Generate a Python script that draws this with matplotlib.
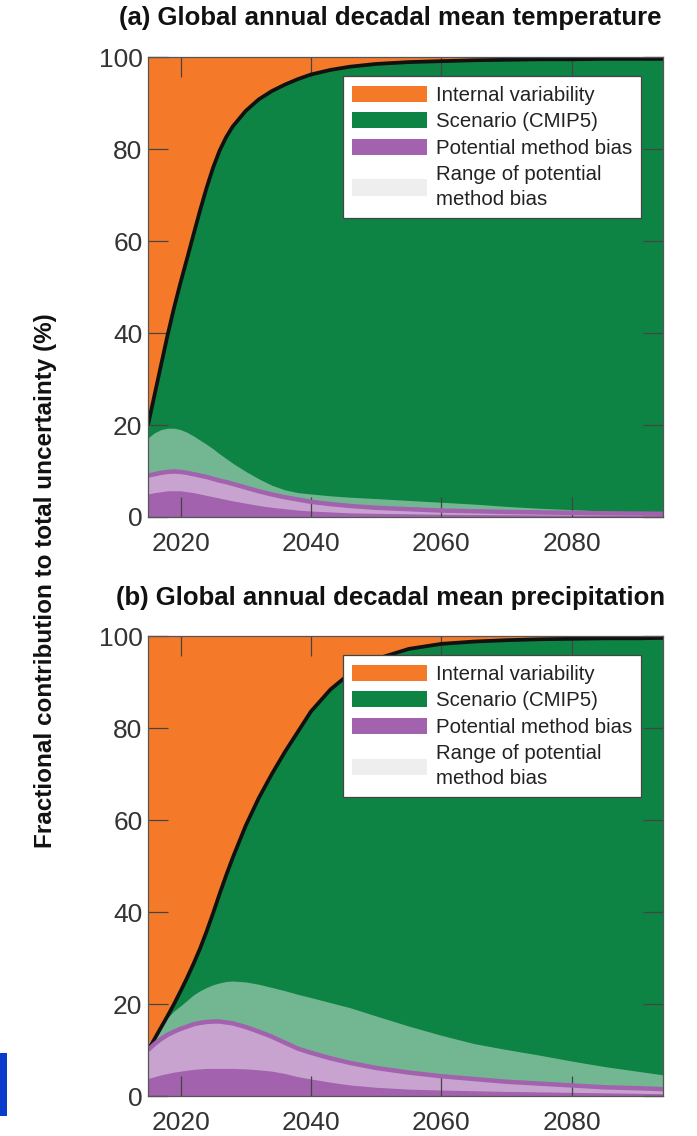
import matplotlib
matplotlib.use('Agg')
import matplotlib.pyplot as plt
from matplotlib.patches import Patch, Rectangle

plt.rcParams['font.family'] = ['Liberation Sans', 'DejaVu Sans']

# years of the decadal means
years = [2015, 2016, 2017, 2018, 2019, 2020, 2021, 2022, 2023, 2024, 2025, 2026,
         2027, 2028, 2030, 2032, 2034, 2036, 2038, 2040, 2043, 2046, 2050, 2055,
         2060, 2065, 2070, 2075, 2080, 2085, 2090, 2094]

# (a) temperature: top of scenario (black line), range of method bias, method bias
temp_total = [20, 26.5, 33, 39.5, 45.5, 51, 56.2, 61.5, 66.7, 71.6, 76.0, 79.7,
              82.6, 84.9, 88.3, 90.8, 92.6, 94, 95.2, 96.2, 97.2, 97.9, 98.5, 98.9,
              99.1, 99.3, 99.4, 99.5, 99.5, 99.6, 99.6, 99.6]
temp_upper = [17.2, 18.3, 19.0, 19.3, 19.3, 19.0, 18.4, 17.6, 16.7, 15.8, 14.8, 13.7,
              12.7, 11.7, 9.9, 8.3, 6.9, 5.9, 5.3, 5.0, 4.6, 4.3, 4.0, 3.6,
              3.2, 2.8, 2.3, 1.9, 1.6, 1.3, 1.0, 0.8]
temp_bias = [9.0, 9.3, 9.6, 9.8, 9.9, 9.8, 9.6, 9.3, 9.0, 8.7, 8.3, 7.9,
             7.6, 7.2, 6.4, 5.6, 4.9, 4.3, 3.8, 3.3, 2.8, 2.4, 2.0, 1.7,
             1.4, 1.25, 1.1, 1.0, 0.9, 0.8, 0.75, 0.7]
temp_lower = [5.0, 5.3, 5.5, 5.7, 5.7, 5.7, 5.5, 5.3, 5.0, 4.7, 4.4, 4.1,
              3.8, 3.5, 3.0, 2.5, 2.1, 1.8, 1.5, 1.3, 1.1, 0.9, 0.8, 0.7,
              0.6, 0.55, 0.5, 0.45, 0.4, 0.35, 0.3, 0.3]

# (b) precipitation
precip_total = [10, 12.4, 14.9, 17.4, 20.0, 22.8, 25.7, 28.8, 32.1, 35.8, 39.8, 44.0,
                48.0, 51.8, 58.8, 64.8, 70.0, 74.8, 79.2, 83.6, 88.4, 91.9, 95.0, 97.2,
                98.3, 98.8, 99.1, 99.3, 99.4, 99.5, 99.5, 99.6]
precip_upper = [11.5, 13.3, 15.2, 17.0, 18.5, 19.6, 20.8, 22.0, 22.9, 23.6, 24.2, 24.6,
                24.9, 25.0, 24.8, 24.3, 23.6, 22.9, 22.1, 21.4, 20.3, 19.2, 17.4, 15.2,
                13.2, 11.4, 10.1, 8.9, 7.6, 6.4, 5.4, 4.6]
precip_bias = [10.0, 11.3, 12.4, 13.3, 14.0, 14.6, 15.1, 15.6, 15.9, 16.1, 16.2, 16.2,
               16.0, 15.8, 15.0, 14.0, 12.9, 11.6, 10.3, 9.4, 8.2, 7.2, 6.1, 5.1,
               4.3, 3.7, 3.1, 2.7, 2.3, 1.9, 1.7, 1.5]
precip_lower = [3.8, 4.2, 4.6, 4.9, 5.2, 5.4, 5.6, 5.8, 5.9, 6.0, 6.0, 6.0,
                6.0, 6.0, 5.9, 5.7, 5.4, 4.9, 4.2, 3.7, 3.0, 2.4, 1.9, 1.5,
                1.3, 1.15, 1.0, 0.9, 0.8, 0.7, 0.6, 0.5]

titles = ['(a) Global annual decadal mean temperature',
          '(b) Global annual decadal mean precipitation']
labels = ['Internal variability', 'Scenario (CMIP5)', 'Potential method bias',
          'Range of potential\nmethod bias']
xticks = [2020, 2040, 2060, 2080]
yticks = [0, 20, 40, 60, 80, 100]

ORANGE = '#f47a2a'
GREEN = '#0e8444'
PURPLE = '#a262ad'
GREY = '#eeeeee'
TXT = '#333333'

fig = plt.figure(figsize=(6.97, 11.36), dpi=100)
ax_a = fig.add_axes([0.2123, 0.5449, 0.7389, 0.4049])
ax_b = fig.add_axes([0.2123, 0.0352, 0.7389, 0.4049])

panels = [(ax_a, temp_total, temp_upper, temp_bias, temp_lower),
          (ax_b, precip_total, precip_upper, precip_bias, precip_lower)]

for i, (ax, total, upper, bias, lower) in enumerate(panels):
    ax.fill_between(years, total, 100, color=ORANGE, lw=0)
    ax.fill_between(years, 0, total, color=GREEN, lw=0)
    ax.fill_between(years, 0, bias, color=PURPLE, lw=0)
    ax.plot(years, total, color='#111111', lw=2.7, solid_capstyle='butt')
    ax.fill_between(years, lower, upper, color='white', alpha=0.42, lw=0)
    ax.plot(years, bias, color=PURPLE, lw=3.2, solid_capstyle='butt')

    ax.set_xlim(2015, 2094)
    ax.set_ylim(0, 100)
    ax.set_xticks(xticks)
    ax.set_yticks(yticks)
    ax.tick_params(direction='in', length=14.5, width=0.9, color='#444444',
                   top=True, right=True, labelsize=19, labelcolor=TXT)
    ax.tick_params(axis='x', pad=11)
    ax.tick_params(axis='y', pad=4)
    for s in ax.spines.values():
        s.set_color('#555555')
        s.set_linewidth(0.9)

    fig.text(0.56, [0.984, 0.474][i], titles[i], ha='center', va='center',
             fontsize=18.5, fontweight='bold', color='#111111')

    handles = [Patch(facecolor=ORANGE), Patch(facecolor=GREEN),
               Patch(facecolor=PURPLE), Patch(facecolor=GREY)]
    leg = ax.legend(handles, labels, loc='upper left', bbox_to_anchor=(0.378, 0.958),
                    fontsize=14.7, handlelength=3.7, handleheight=0.83, labelspacing=0.37,
                    handletextpad=0.4, borderpad=0.45, borderaxespad=0, fancybox=False,
                    framealpha=1, edgecolor='#444444')
    leg.get_frame().set_linewidth(0.9)
    for t in leg.get_texts():
        t.set_color('#222222')
    leg.get_texts()[-1].set_linespacing(1.35)

fig.text(0.0646, 0.489, 'Fractional contribution to total uncertainty (%)', rotation=90,
         ha='center', va='center', fontsize=17.5, fontweight='bold', color='#111111')

# blue marker at the lower left edge
fig.patches.append(Rectangle((0, 0.0176), 0.0105, 0.0555, transform=fig.transFigure,
                             facecolor='#0a3ccc', edgecolor='none'))

fig.savefig('out.png', dpi=100)
